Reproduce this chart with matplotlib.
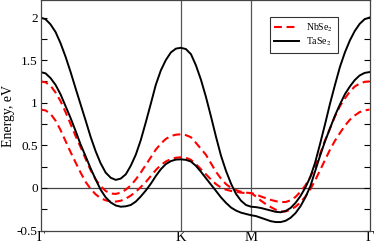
import numpy as np
import matplotlib
matplotlib.use("Agg")
import matplotlib.pyplot as plt

plt.rcParams['font.family'] = ['Liberation Serif', 'DejaVu Serif']
plt.rcParams['mathtext.fontset'] = 'stix'

# k-path positions (Gamma-K-M-Gamma)
k = [0.0, 0.048, 0.095, 0.143, 0.190, 0.238, 0.286, 0.333, 0.381, 0.429, 0.476,
     0.524, 0.571, 0.619, 0.667, 0.714, 0.762, 0.810, 0.857, 0.905, 0.952, 1.0,
     1.048, 1.095, 1.143, 1.190, 1.238, 1.286, 1.333,
     1.381, 1.429, 1.476, 1.524, 1.571, 1.619, 1.667, 1.714, 1.762, 1.810, 1.857,
     1.905, 1.952, 2.0,
     2.047, 2.094, 2.141, 2.188, 2.234, 2.281, 2.328, 2.375, 2.422, 2.469, 2.516,
     2.563, 2.609, 2.656, 2.703, 2.750, 2.797, 2.844, 2.891, 2.938, 2.984, 3.031,
     3.078, 3.125]

# TaSe2 bands
ta_1 = [2.00, 1.98, 1.92, 1.83, 1.70, 1.54, 1.36, 1.17, 0.98, 0.79, 0.60,
        0.43, 0.29, 0.18, 0.12, 0.095, 0.11, 0.16, 0.26, 0.39, 0.56, 0.77,
        0.99, 1.21, 1.38, 1.50, 1.59, 1.635, 1.645,
        1.63, 1.57, 1.44, 1.27, 1.07, 0.84, 0.60, 0.38, 0.20, 0.05, -0.07,
        -0.15, -0.20, -0.22,
        -0.225, -0.235, -0.25, -0.265, -0.28, -0.285, -0.27, -0.235, -0.175, -0.095, 0.005,
        0.13, 0.30, 0.52, 0.75, 0.99, 1.21, 1.42, 1.59, 1.73, 1.84, 1.925,
        1.98, 2.00]
ta_2 = [1.36, 1.345, 1.29, 1.21, 1.10, 0.96, 0.82, 0.67, 0.51, 0.37, 0.23,
        0.10, -0.02, -0.11, -0.17, -0.205, -0.22, -0.215, -0.20, -0.16, -0.10, -0.03,
        0.05, 0.14, 0.22, 0.28, 0.315, 0.333, 0.336,
        0.33, 0.31, 0.26, 0.19, 0.115, 0.04, -0.035, -0.11, -0.175, -0.23, -0.265,
        -0.29, -0.305, -0.32,
        -0.33, -0.35, -0.37, -0.39, -0.40, -0.40, -0.385, -0.35, -0.295, -0.215, -0.11,
        0.02, 0.20, 0.38, 0.55, 0.70, 0.85, 0.98, 1.10, 1.19, 1.265, 1.32,
        1.35, 1.36]

# NbSe2 bands
nb_1 = [1.25, 1.24, 1.20, 1.12, 1.02, 0.89, 0.75, 0.61, 0.48, 0.34, 0.21,
        0.10, 0.02, -0.035, -0.065, -0.07, -0.055, -0.02, 0.03, 0.10, 0.18, 0.27,
        0.36, 0.45, 0.52, 0.575, 0.61, 0.625, 0.63,
        0.62, 0.595, 0.53, 0.46, 0.39, 0.29, 0.19, 0.11, 0.045, 0.0, -0.025,
        -0.045, -0.055, -0.06,
        -0.075, -0.10, -0.12, -0.14, -0.155, -0.165, -0.165, -0.145, -0.105, -0.045, 0.03,
        0.13, 0.25, 0.40, 0.56, 0.70, 0.84, 0.96, 1.05, 1.13, 1.19, 1.225,
        1.245, 1.25]
nb_2 = [0.92, 0.91, 0.87, 0.79, 0.68, 0.55, 0.42, 0.30, 0.18, 0.07, -0.01,
        -0.075, -0.12, -0.145, -0.16, -0.16, -0.15, -0.125, -0.09, -0.045, 0.01, 0.07,
        0.14, 0.21, 0.27, 0.31, 0.34, 0.355, 0.36,
        0.355, 0.33, 0.28, 0.22, 0.16, 0.10, 0.045, 0.005, -0.02, -0.035, -0.045,
        -0.055, -0.06, -0.06,
        -0.10, -0.15, -0.19, -0.225, -0.255, -0.275, -0.275, -0.255, -0.22, -0.17, -0.10,
        -0.015, 0.09, 0.21, 0.33, 0.45, 0.555, 0.645, 0.73, 0.80, 0.85, 0.89,
        0.91, 0.92]

kpoints = [0.0, 1.333, 2.0, 3.125]
klabels = ['Γ', 'K', 'M', 'Γ']

fig = plt.figure(figsize=(3.74, 2.44), dpi=100)
ax = fig.add_axes([0.1083, 0.055, 0.8797, 0.943])

ax.axhline(0, color='#444444', lw=0.9, zorder=1)
for kp in kpoints[1:-1]:
    ax.axvline(kp, color='#555555', lw=0.9, zorder=1)

ax.plot(k, nb_1, color='red', lw=1.5, dashes=(3.8, 2.2), label='NbSe$_2$')
ax.plot(k, nb_2, color='red', lw=1.5, dashes=(3.8, 2.2))
ax.plot(k, ta_1, color='black', lw=1.4, label='TaSe$_2$')
ax.plot(k, ta_2, color='black', lw=1.4)

ax.set_xlim(kpoints[0], kpoints[-1])
ax.set_ylim(-0.5, 2.2)
ax.set_xticks(kpoints)
ax.set_xticklabels(klabels, fontsize=10.5)
ax.set_yticks([-0.5, 0, 0.5, 1, 1.5, 2])
ax.set_yticklabels(['-0.5', '0', '0.5', '1', '1.5', '2'], fontsize=9.5)
ax.set_yticks(np.arange(-0.5, 2.2, 0.25), minor=True)
ax.tick_params(axis='y', which='both', direction='in', right=True, length=4, width=0.8, pad=2)
ax.tick_params(axis='x', length=0, pad=0)
ax.set_ylabel('Energy, eV', fontsize=10, labelpad=1)
for s in ax.spines.values():
    s.set_color('#444444')
    s.set_linewidth(0.9)

leg = ax.legend(loc='upper right', bbox_to_anchor=(0.903, 0.928), fontsize=7,
                handlelength=2.6, frameon=True, fancybox=False, borderpad=0.45,
                labelspacing=0.2, handletextpad=0.7, borderaxespad=0)
leg.get_frame().set_edgecolor('black')
leg.get_frame().set_linewidth(0.8)

fig.savefig('out.png', dpi=100)
